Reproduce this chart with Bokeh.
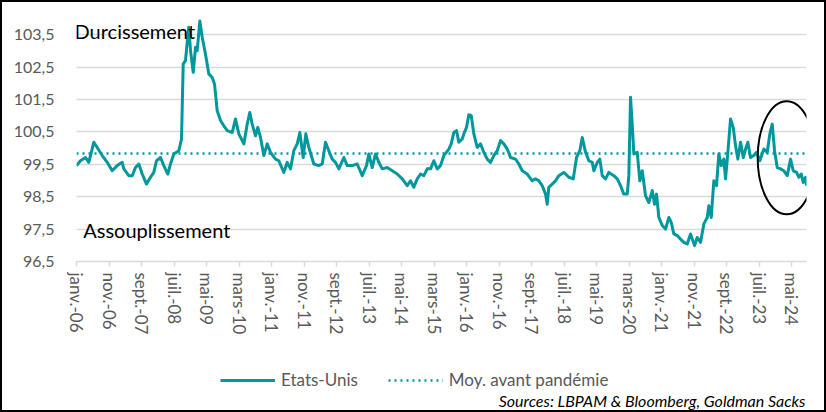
from bokeh.plotting import figure
from bokeh.layouts import column
from bokeh.models import Range1d, FixedTicker, Legend, LegendItem, Label, CustomJSTickFormatter
from bokeh.embed import file_html
from bokeh.resources import INLINE

# months elapsed since January 2006
month_index = [
    0.0, 1.23, 2.77, 3.78, 5.32, 6.37, 7.91, 9.45, 10.98, 12.52, 14.06, 14.55, 16.09, 17.14,
    18.15, 19.17, 20.22, 21.54, 22.77, 23.78, 24.62, 25.85, 26.86, 28.09, 28.92, 29.94, 31.48,
    32.31, 32.83, 33.54, 34.06, 34.55, 35.08, 35.91, 36.62, 37.14, 37.94, 38.68, 39.69, 40.71,
    41.75, 42.46, 43.29, 44.31, 45.32, 46.37, 47.91, 48.92, 49.94, 51.48, 52.52, 53.32, 54.06,
    55.08, 55.78, 56.62, 57.63, 58.68, 59.69, 61.23, 62.25, 63.78, 64.83, 65.85, 66.86, 67.91,
    68.71, 69.75, 70.55, 71.48, 73.02, 74.55, 75.60, 76.62, 77.63, 78.68, 79.69, 80.71, 82.25,
    83.29, 84.83, 86.37, 87.91, 89.23, 89.94, 90.98, 92.00, 93.02, 94.06, 95.60, 97.14, 98.68,
    100.22, 101.75, 102.77, 103.78, 104.83, 105.85, 106.86, 107.91, 108.92, 109.94, 110.98,
    112.00, 113.02, 114.55, 115.29, 116.09, 116.92, 117.63, 118.68, 119.17, 120.00, 120.71,
    121.45, 122.25, 123.29, 124.31, 125.32, 126.37, 127.38, 128.40, 129.45, 130.46, 131.48,
    132.52, 133.54, 135.08, 136.09, 137.14, 138.68, 140.22, 141.23, 142.25, 143.29, 144.31,
    144.83, 145.32, 146.37, 147.38, 148.40, 149.94, 151.48, 152.83, 153.85, 154.86, 155.60,
    156.62, 157.63, 158.68, 159.17, 160.22, 161.02, 161.75, 162.77, 163.78, 165.32, 166.37,
    167.38, 168.40, 169.45, 169.94, 170.46, 170.98, 171.48, 172.52, 173.32, 174.06, 175.08,
    176.09, 177.14, 177.85, 178.46, 179.17, 180.22, 181.23, 182.25, 182.98, 183.78, 184.83,
    185.85, 186.86, 187.91, 188.92, 190.15, 190.98, 192.00, 193.02, 194.06, 194.55, 195.29,
    196.09, 196.92, 197.63, 198.37, 199.17, 199.69, 200.40, 201.23, 202.06, 202.77, 203.48,
    204.31, 205.14, 205.85, 206.55, 207.38, 208.40, 209.23, 210.25, 211.48, 212.52, 213.32,
    214.06, 214.77, 215.60, 216.62, 217.63, 218.68, 219.69, 220.52, 221.54, 222.25, 223.00,
    223.60, 224.31, 224.62,
]
us_fci = [
    99.46, 99.61, 99.71, 99.56, 100.18, 100.02, 99.77, 99.56, 99.30, 99.46, 99.56, 99.36, 99.15,
    99.15, 99.40, 99.51, 99.20, 98.89, 99.10, 99.25, 99.61, 99.71, 99.46, 99.20, 99.51, 99.82,
    99.92, 100.28, 102.60, 102.70, 103.26, 103.73, 103.01, 102.34, 103.11, 103.01, 103.92,
    103.42, 102.90, 102.29, 102.18, 101.98, 101.15, 100.85, 100.69, 100.54, 100.48, 100.90,
    100.44, 100.13, 100.74, 101.10, 100.74, 100.38, 100.64, 100.33, 99.77, 100.13, 99.87, 99.66,
    99.61, 99.25, 99.56, 99.36, 99.92, 100.13, 100.48, 99.71, 100.44, 100.02, 99.51, 99.46,
    99.51, 100.18, 99.92, 99.66, 99.56, 99.36, 99.71, 99.46, 99.46, 99.51, 99.15, 99.46, 99.82,
    99.40, 99.82, 99.56, 99.36, 99.40, 99.30, 99.20, 99.05, 98.84, 98.99, 98.79, 99.05, 99.20,
    99.15, 99.36, 99.36, 99.61, 99.36, 99.46, 99.77, 99.97, 100.13, 100.48, 100.54, 100.18,
    100.28, 100.44, 100.64, 101.03, 101.00, 100.44, 100.02, 100.13, 99.87, 99.66, 99.56, 99.77,
    99.92, 100.23, 100.13, 99.97, 99.71, 99.66, 99.51, 99.30, 99.20, 98.99, 99.05, 98.99, 98.84,
    98.58, 98.27, 98.79, 98.89, 98.99, 99.15, 99.25, 99.10, 99.05, 99.71, 99.92, 100.33, 99.87,
    99.61, 99.56, 99.30, 99.56, 99.66, 99.15, 99.05, 99.25, 99.15, 99.05, 98.84, 98.58, 98.58,
    99.15, 101.57, 100.74, 99.82, 99.87, 98.99, 99.30, 98.53, 98.32, 98.69, 98.27, 98.58, 97.86,
    97.61, 97.50, 97.86, 97.71, 97.35, 97.30, 97.19, 97.09, 97.04, 97.35, 96.99, 97.24, 97.09,
    97.66, 97.86, 98.22, 97.86, 98.99, 98.84, 99.82, 99.46, 99.66, 99.05, 99.87, 100.90, 100.64,
    100.07, 99.66, 100.18, 99.71, 99.97, 100.18, 99.71, 99.77, 99.87, 99.61, 99.97, 99.87,
    100.44, 100.74, 99.92, 99.40, 99.36, 99.30, 99.15, 99.66, 99.30, 99.25, 99.10, 99.20, 98.94,
    99.10, 98.84,
]
pre_pandemic_avg = 99.83

tick_months = list(range(0, 221, 10))
tick_labels = [
    "janv.-06", "nov.-06", "sept.-07", "juil.-08", "mai-09", "mars-10", "janv.-11", "nov.-11",
    "sept.-12", "juil.-13", "mai-14", "mars-15", "janv.-16", "nov.-16", "sept.-17", "juil.-18",
    "mai-19", "mars-20", "janv.-21", "nov.-21", "sept.-22", "juil.-23", "mai-24",
]
y_ticks = [96.5, 97.5, 98.5, 99.5, 100.5, 101.5, 102.5, 103.5]

TEAL = "#00989C"
GRID = "#D9D9D9"
LABEL_GRAY = "#595959"
FONT = "Lato"

# ---------------- main chart ----------------
p = figure(width=822, height=345, output_backend="svg", toolbar_location=None,
           x_range=Range1d(0, 224.6), y_range=Range1d(96.5, 104.0))
p.min_border_left = 74
p.min_border_right = 18
p.min_border_top = 16
p.min_border_bottom = 86
p.outline_line_color = None
p.background_fill_color = "white"
p.border_fill_color = "white"

p.xgrid.visible = False
p.ygrid.ticker = FixedTicker(ticks=y_ticks)
p.ygrid.grid_line_color = GRID
p.ygrid.grid_line_width = 1.5

p.yaxis.ticker = FixedTicker(ticks=y_ticks, minor_ticks=[])
p.yaxis.formatter = CustomJSTickFormatter(code="return tick.toFixed(1).replace('.', ',');")
p.yaxis.axis_line_color = None
p.yaxis.major_tick_line_color = None
p.yaxis.minor_tick_line_color = None
p.yaxis.major_label_standoff = 16
p.yaxis.major_label_text_font = FONT
p.yaxis.major_label_text_font_size = "16px"
p.yaxis.major_label_text_color = LABEL_GRAY

p.xaxis.ticker = FixedTicker(ticks=tick_months, minor_ticks=[])
p.xaxis.major_label_overrides = dict(zip(tick_months, tick_labels))
p.xaxis.major_label_orientation = "vertical"
p.xaxis.axis_line_color = GRID
p.xaxis.axis_line_width = 1.5
p.xaxis.major_tick_line_color = GRID
p.xaxis.major_tick_line_width = 1.5
p.xaxis.major_tick_out = 5
p.xaxis.major_tick_in = 0
p.xaxis.minor_tick_line_color = None
p.xaxis.major_label_standoff = 6
p.xaxis.major_label_text_font = FONT
p.xaxis.major_label_text_font_size = "17px"
p.xaxis.major_label_text_color = LABEL_GRAY

avg_line = p.line([0, 224.6], [pre_pandemic_avg, pre_pandemic_avg], line_color=TEAL,
                  line_width=2.5, line_dash="2 4")
us_line = p.line(month_index, us_fci, line_color=TEAL, line_width=3, line_join="round")

p.ellipse(x=218.5, y=99.70, width=58, height=113, width_units="screen", height_units="screen",
          fill_color=None, line_color="black", line_width=2)

p.add_layout(Label(x=-0.6, y=103.62, text="Durcissement", text_font=FONT,
                   text_font_size="20px", text_color="black", text_baseline="alphabetic"))
p.add_layout(Label(x=2.06, y=97.47, text="Assouplissement", text_font=FONT,
                   text_font_size="20px", text_color="black", text_baseline="alphabetic"))

# ---------------- legend + source strip (frame aligned with the chart frame) ----------------
q = figure(width=822, height=63, output_backend="svg", toolbar_location=None,
           x_axis_location=None, y_axis_location=None,
           x_range=Range1d(0, 1), y_range=Range1d(0, 1))
q.min_border_left = 0
q.min_border_right = 0
q.min_border_top = 0
q.min_border_bottom = 0
q.outline_line_color = None
q.xgrid.visible = False
q.ygrid.visible = False
q.background_fill_color = "white"
q.border_fill_color = "white"

# legend proxies: same series, lying outside this strip's ranges (not visible here)
leg_us = q.line(month_index, us_fci, line_color=TEAL, line_width=3)
leg_avg = q.line([0, 224.6], [pre_pandemic_avg, pre_pandemic_avg], line_color=TEAL,
                 line_width=2.5, line_dash="2 4")

legend = Legend(items=[LegendItem(label="Etats-Unis", renderers=[leg_us]),
                       LegendItem(label="Moy. avant pandémie", renderers=[leg_avg])],
                orientation="horizontal", location=(144, 20), border_line_color=None,
                background_fill_alpha=0, padding=0, margin=0, spacing=30, glyph_width=55,
                glyph_height=20, label_height=20, label_standoff=6, label_text_font=FONT,
                label_text_font_size="17px", label_text_color=LABEL_GRAY)
q.add_layout(legend)

q.add_layout(Label(x=1.0, y=10, y_units="screen", x_offset=-1,
                   text="Sources: LBPAM & Bloomberg, Goldman Sacks", text_align="right",
                   text_baseline="middle", text_font=FONT, text_font_style="italic",
                   text_font_size="16px", text_color="black"))

layout = column(p, q, spacing=0, styles={"border": "2px solid black"})

open("out.html", "w").write(file_html(layout, INLINE))
